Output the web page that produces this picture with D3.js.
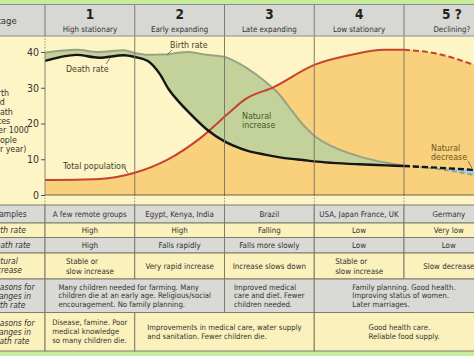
<!DOCTYPE html>
<html><head><meta charset="utf-8">
<script src="https://cdn.jsdelivr.net/npm/d3@7"></script>
<style>
body{margin:0;overflow:hidden;background:#fff}
svg{display:block}
text{font-family:'Liberation Sans Narrow','Arial Narrow','DejaVu Sans Condensed',sans-serif;}
</style>
</head><body>
<svg id="c" width="474" height="356"></svg>
<script>
// ---------- DATA ----------
const stageNumbers = ["1", "2", "3", "4", "5 ?"];
const stageNames = ["High stationary", "Early expanding", "Late expanding", "Low stationary", "Declining?"];
const yTicks = [0, 10, 20, 30, 40];
const yAxisLabel = ["Birth", "and", "death", "rates", "(per 1000", "people", "per year)"];

// position along the model, in stage units (0 = start of stage 1, 4 = start of stage 5)
const ratePos   = [0, 0.35, 0.6, 0.88, 1.0, 1.15, 1.28, 1.38, 1.48, 1.6, 1.8, 2.0, 2.1, 2.25, 2.45, 2.6, 2.75, 2.87, 3.0, 3.2, 3.5, 3.8, 4.0];
const birthRate = [39.8, 40.6, 40.0, 40.5, 39.7, 39.2, 39.3, 39.4, 39.8, 40.0, 39.2, 38.6, 37.6, 35.5, 31.8, 28.4, 23.6, 19.8, 16.6, 13.6, 10.8, 9.0, 8.2];
const deathRate = [37.5, 39.2, 38.4, 39.1, 38.6, 37.4, 33.8, 29.5, 26.4, 23.2, 18.4, 15.0, 13.8, 12.4, 11.3, 10.6, 10.1, 9.8, 9.4, 9.0, 8.6, 8.3, 8.1];
// stage 5 projection (dashed)
const futurePos   = [4.0, 4.4, 4.78];
const futureBirth = [8.2, 7.2, 5.6];
const futureDeath = [8.1, 7.6, 7.0];

const popPos     = [0, 0.61, 1.0, 1.36, 1.73, 2.06, 2.22, 2.55, 3.0, 3.41, 3.78, 4.0];
const population = [4.2, 4.5, 6.2, 9.8, 15.9, 23.2, 26.6, 30.2, 36.4, 39.2, 40.6, 40.6];
const futurePopPos = [4.0, 4.33, 4.78];
const futurePop    = [40.6, 39.7, 36.4];

const rowLabels = [["Examples"], ["Birth rate"], ["Death rate"], ["Natural", "increase"],
  ["Reasons for", "changes in", "birth rate"], ["Reasons for", "changes in", "death rate"]];
const examples      = [["A few remote groups"], ["Egypt, Kenya, India"], ["Brazil"], ["USA, Japan France, UK"], ["Germany"]];
const birthRateText = [["High"], ["High"], ["Falling"], ["Low"], ["Very low"]];
const deathRateText = [["High"], ["Falls rapidly"], ["Falls more slowly"], ["Low"], ["Low"]];
const naturalText   = [["Stable or", "slow increase"], ["Very rapid increase"], ["Increase slows down"], ["Stable or", "slow increase"], ["Slow decrease"]];
const birthReasons = [
  {from: 0, to: 2, lines: ["Many children needed for farming. Many", "children die at an early age. Religious/social", "encouragement. No family planning."]},
  {from: 2, to: 3, lines: ["Improved medical", "care and diet. Fewer", "children needed."]},
  {from: 3, to: 5, lines: ["Family planning. Good health.", "Improving status of women.", "Later marriages."]}
];
const deathReasons = [
  {from: 0, to: 1, lines: ["Disease, famine. Poor", "medical knowledge", "so many children die."]},
  {from: 1, to: 3, lines: ["Improvements in medical care, water supply", "and sanitation. Fewer children die."]},
  {from: 3, to: 5, lines: ["Good health care.", "Reliable food supply."]}
];

// ---------- LAYOUT ----------
const W = 474, H = 356;
const svg = d3.select("#c");
const x = d3.scaleLinear().domain([0, 4]).range([45, 404]);
const y = d3.scaleLinear().domain([0, 40]).range([195, 52]);
const headTop = 4.5, headBot = 36, stripBot = 205;
const rowEdges = [205, 223, 237.5, 253, 279, 312.5, 351];
const rowFill = ["#d9d9d5", "#fbf1bc", "#d9d9d5", "#fbf1bc", "#d9d9d5", "#fbf1bc"];
const rowFs = [7.9, 7.9, 7.9, 7.9, 7.7, 7.7];
const rowLh = [9, 9, 9, 10, 8.2, 9];
const lineCol = "#7f7c6c";
const txtCol = "#333";

function block(parent, lines, cx, cy, o = {}) {
  const fs = o.fs || 8, lh = o.lh || 8.5;
  const t = parent.append("text").attr("font-size", fs).attr("fill", o.fill || txtCol)
    .attr("font-style", o.italic ? "italic" : null).attr("font-weight", o.bold ? "bold" : null);
  lines.forEach((l, i) => t.append("tspan").attr("x", 0)
    .attr("y", (i - (lines.length - 1) / 2) * lh + fs * 0.35).text(l));
  const w = t.node().getBBox().width;
  const x0 = o.anchor === "start" ? cx : cx - w / 2;
  t.attr("transform", `translate(${x0},${cy})`);
  return t;
}

// backgrounds
svg.append("rect").attr("width", W).attr("height", H).attr("fill", "#c8ec9e");
svg.append("rect").attr("x", 0).attr("y", headTop).attr("width", W).attr("height", headBot - headTop).attr("fill", "#d7d7d3");
svg.append("rect").attr("x", 0).attr("y", headBot).attr("width", W).attr("height", stripBot - headBot).attr("fill", "#fdf5c6");

// areas
const g = svg.append("g");
const popAll = popPos.map((p, i) => [p, population[i]]).concat(futurePopPos.slice(1).map((p, i) => [p, futurePop[i + 1]]));
g.append("path").datum(popAll)
  .attr("d", d3.area().x(d => x(d[0])).y0(y(0)).y1(d => y(d[1])).curve(d3.curveMonotoneX))
  .attr("fill", "#f9d07b");
const rates = ratePos.map((p, i) => ({p, b: birthRate[i], d: deathRate[i]}));
g.append("path").datum(rates)
  .attr("d", d3.area().x(d => x(d.p)).y0(d => y(d.d)).y1(d => y(d.b)).curve(d3.curveMonotoneX))
  .attr("fill", "#c3d29a");
const fut = futurePos.map((p, i) => ({p, b: futureBirth[i], d: futureDeath[i]}));
g.append("path").datum(fut)
  .attr("d", d3.area().x(d => x(d.p)).y0(d => y(d.b)).y1(d => y(d.d)).curve(d3.curveMonotoneX))
  .attr("fill", "#a9cbe6");

// stage lines in chart
[1, 2, 3, 4].forEach(s => {
  svg.append("line").attr("x1", x(s)).attr("x2", x(s)).attr("y1", headTop).attr("y2", y(0))
    .attr("stroke", lineCol).attr("stroke-width", 1);
  svg.append("line").attr("x1", x(s)).attr("x2", x(s)).attr("y1", y(0)).attr("y2", stripBot)
    .attr("stroke", lineCol).attr("stroke-width", 1).attr("stroke-dasharray", "1.2,1.6");
});
svg.append("line").attr("x1", x(0)).attr("x2", x(0)).attr("y1", headTop).attr("y2", headBot).attr("stroke", lineCol);
svg.append("line").attr("x1", x(0)).attr("x2", x(0)).attr("y1", headBot).attr("y2", y(40)).attr("stroke", lineCol).attr("stroke-dasharray", "1.2,1.6");
svg.append("line").attr("x1", x(0)).attr("x2", x(0)).attr("y1", y(40)).attr("y2", y(0)).attr("stroke", "#8a8470");
svg.append("line").attr("x1", x(0)).attr("x2", x(0)).attr("y1", y(0)).attr("y2", stripBot).attr("stroke", lineCol).attr("stroke-dasharray", "1.2,1.6");
svg.append("line").attr("x1", 0).attr("x2", W).attr("y1", headTop).attr("y2", headTop).attr("stroke", "#8e8e86");
svg.append("line").attr("x1", 0).attr("x2", W).attr("y1", headBot).attr("y2", headBot).attr("stroke", "#8e8e86");
svg.append("line").attr("x1", x(0)).attr("x2", W).attr("y1", y(0)).attr("y2", y(0)).attr("stroke", "#6e6248").attr("stroke-width", 1.2);

// curves
const line = d3.line().x(d => x(d[0])).y(d => y(d[1])).curve(d3.curveMonotoneX);
g.append("path").datum(rates.map(d => [d.p, d.b])).attr("d", line).attr("fill", "none").attr("stroke", "#98a384").attr("stroke-width", 2);
g.append("path").datum(fut.map(d => [d.p, d.b])).attr("d", line).attr("fill", "none").attr("stroke", "#98a384").attr("stroke-width", 2).attr("stroke-dasharray", "5,3");
g.append("path").datum(popPos.map((p, i) => [p, population[i]])).attr("d", line).attr("fill", "none").attr("stroke", "#c8432b").attr("stroke-width", 2);
g.append("path").datum(futurePopPos.map((p, i) => [p, futurePop[i]])).attr("d", line).attr("fill", "none").attr("stroke", "#c8432b").attr("stroke-width", 2).attr("stroke-dasharray", "6,3");
g.append("path").datum(rates.map(d => [d.p, d.d])).attr("d", line).attr("fill", "none").attr("stroke", "#151515").attr("stroke-width", 2.4);
g.append("path").datum(fut.map(d => [d.p, d.d])).attr("d", line).attr("fill", "none").attr("stroke", "#151515").attr("stroke-width", 2.4).attr("stroke-dasharray", "6,3");

// y axis
const ax = svg.append("g").attr("transform", `translate(${x(0)},0)`)
  .call(d3.axisLeft(y).tickValues(yTicks).tickSize(4).tickPadding(2));
ax.select(".domain").remove();
ax.selectAll("line").attr("stroke", "#555");
ax.selectAll("text").attr("font-size", 10.5).attr("fill", "#333").attr("font-family", "'Liberation Sans Narrow','Arial Narrow','DejaVu Sans Condensed',sans-serif");
yAxisLabel.forEach((l, i) => svg.append("text").attr("x", -10).attr("y", 96 + i * 9.3)
  .attr("font-size", 8.8).attr("fill", txtCol).text(l));

// header
svg.append("text").attr("x", -8).attr("y", 24).attr("font-size", 9.5).attr("fill", txtCol).text("Stage");
stageNumbers.forEach((s, i) => {
  const cx = (x(i) + x(i + 1)) / 2 + (i === 4 ? 3 : 0);
  svg.append("text").attr("x", cx).attr("y", 19).attr("text-anchor", "middle").attr("font-size", 13.5)
    .attr("font-weight", "bold").attr("fill", "#222").attr("font-family", "'Liberation Sans',Arial,sans-serif").text(s);
  svg.append("text").attr("x", cx).attr("y", 31.5).attr("text-anchor", "middle").attr("font-size", 7.9)
    .attr("fill", txtCol).text(stageNames[i]);
});

// annotations
const ann = svg.append("g");
const af = 8.8;
ann.append("text").attr("x", 170).attr("y", 48).attr("font-size", af).attr("fill", "#3c3f2c").text("Birth rate");
ann.append("line").attr("x1", 172).attr("y1", 50).attr("x2", 167).attr("y2", 55).attr("stroke", "#555").attr("stroke-width", 0.8);
ann.append("text").attr("x", 66).attr("y", 71.5).attr("font-size", af).attr("fill", "#3c3f2c").text("Death rate");
ann.append("line").attr("x1", 106).attr("y1", 64).attr("x2", 110).attr("y2", 58).attr("stroke", "#555").attr("stroke-width", 0.8);
ann.append("text").attr("x", 63).attr("y", 168.5).attr("font-size", af).attr("fill", "#3c3f2c").text("Total population");
ann.append("line").attr("x1", 123).attr("y1", 166).attr("x2", 128).attr("y2", 173).attr("stroke", "#555").attr("stroke-width", 0.8);
ann.append("text").attr("x", 242).attr("y", 118.5).attr("font-size", af).attr("fill", "#3c5a2c").text("Natural");
ann.append("text").attr("x", 242).attr("y", 127.5).attr("font-size", af).attr("fill", "#3c5a2c").text("increase");
ann.append("text").attr("x", 431).attr("y", 151).attr("font-size", af).attr("fill", "#6a5622").text("Natural");
ann.append("text").attr("x", 431).attr("y", 159.5).attr("font-size", af).attr("fill", "#6a5622").text("decrease");
ann.append("line").attr("x1", 468).attr("y1", 161).attr("x2", 472).attr("y2", 168).attr("stroke", "#555").attr("stroke-width", 0.8);

// table
const tbl = svg.append("g");
function cell(r, from, to, lines) {
  const x0 = x(from), x1 = x(to);
  tbl.append("rect").attr("x", x0).attr("y", rowEdges[r]).attr("width", x1 - x0).attr("height", rowEdges[r + 1] - rowEdges[r])
    .attr("fill", rowFill[r]).attr("stroke", lineCol).attr("stroke-width", 1);
  block(tbl, lines, (x0 + x1) / 2, (rowEdges[r] + rowEdges[r + 1]) / 2, {fs: rowFs[r], lh: rowLh[r]});
}
rowLabels.forEach((lab, r) => {
  tbl.append("rect").attr("x", -2).attr("y", rowEdges[r]).attr("width", x(0) + 2).attr("height", rowEdges[r + 1] - rowEdges[r])
    .attr("fill", rowFill[r]).attr("stroke", lineCol).attr("stroke-width", 1);
  block(tbl, lab, -10, (rowEdges[r] + rowEdges[r + 1]) / 2, {anchor: "start", italic: r > 0, fs: 8.4, lh: 9});
});
[examples, birthRateText, deathRateText, naturalText].forEach((row, r) =>
  row.forEach((lines, i) => cell(r, i, i + 1, lines)));
birthReasons.forEach(c => cell(4, c.from, c.to, c.lines));
deathReasons.forEach(c => cell(5, c.from, c.to, c.lines));
</script>
</body></html>
